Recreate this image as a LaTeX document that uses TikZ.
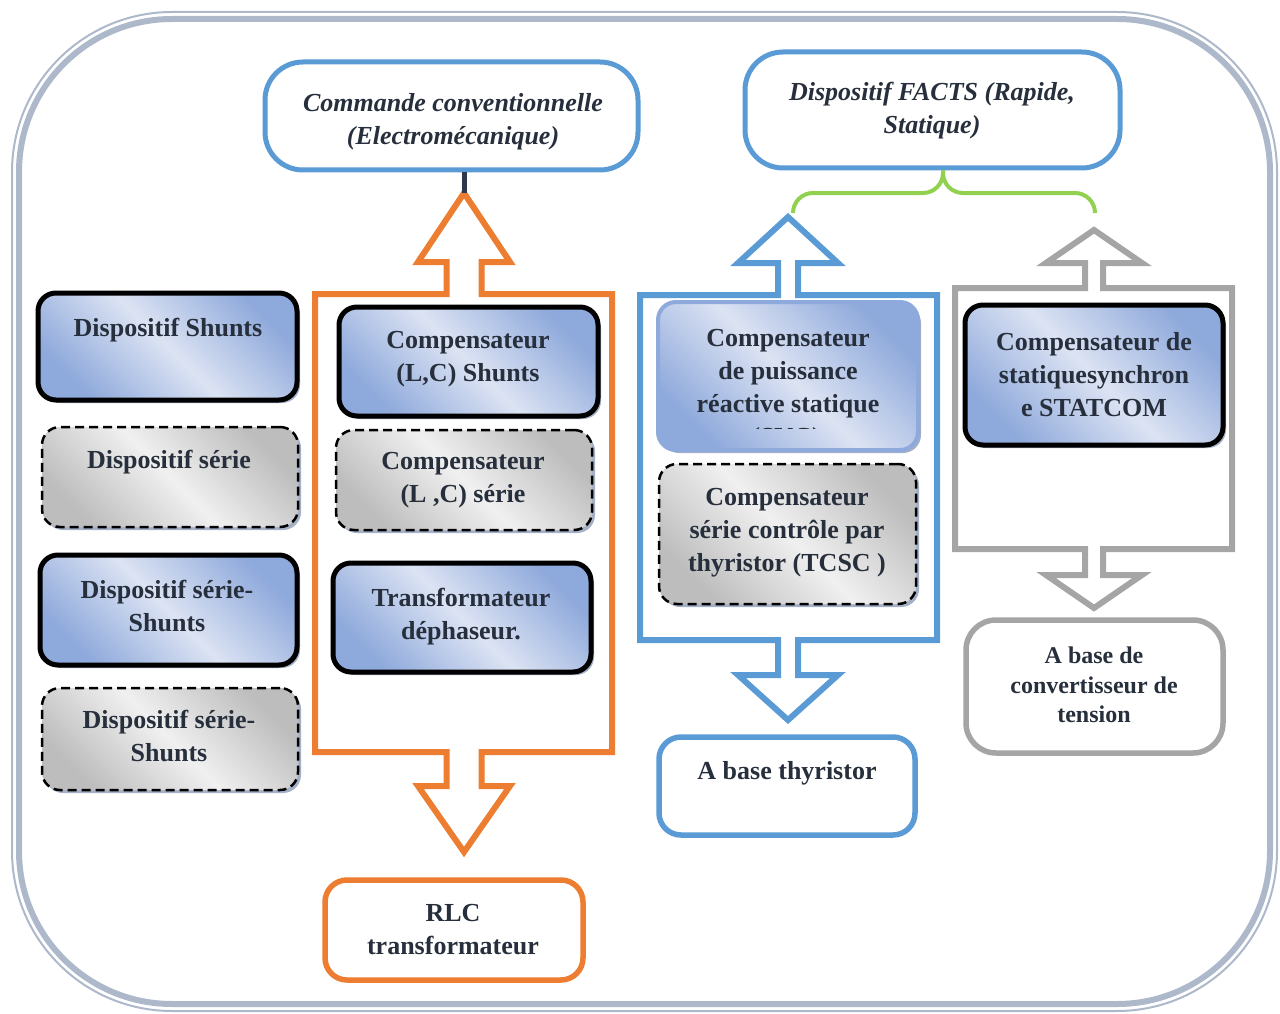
\documentclass[tikz,border=0pt]{standalone}
\usepackage{fontspec}
\setmainfont{Liberation Serif}
\usetikzlibrary{shadows}

\definecolor{frameC}{HTML}{ADB9CA}
\definecolor{accBlue}{HTML}{5B9BD5}
\definecolor{accOrange}{HTML}{ED7D31}
\definecolor{accGray}{HTML}{A5A5A5}
\definecolor{accGreen}{HTML}{92D050}
\definecolor{ink}{HTML}{262F3B}
\definecolor{stemC}{HTML}{2E3A4A}
\definecolor{shBlue}{HTML}{8EA9DB}
\definecolor{shBlueL}{HTML}{DCE3F3}
\definecolor{shGray}{HTML}{BDBDBD}
\definecolor{shGrayL}{HTML}{F0F0F0}
\definecolor{shadowC}{HTML}{8C9CB8}

\tikzset{
  txt/.style={font=\fontsize{26}{33}\selectfont\bfseries, text=ink, align=center, inner sep=0pt, anchor=north},
  headtxt/.style={txt, font=\fontsize{26}{33}\selectfont\bfseries\itshape},
  smalltxt/.style={txt, font=\fontsize{24}{29.5}\selectfont\bfseries},
  inbox/.style={rounded corners=18pt, inner sep=0pt,
    drop shadow={shadow xshift=3pt, shadow yshift=-3pt, fill=shadowC, opacity=0.8}},
  bluebox/.style={inbox, draw=black, line width=5pt,
    left color=shBlue, right color=shBlue, middle color=shBlueL, shading angle=-45},
  softbox/.style={inbox, draw=shBlue, line width=4pt,
    left color=shBlue, right color=shBlue, middle color=shBlueL, shading angle=-45},
  graybox/.style={inbox, draw=black, line width=2.5pt, dash pattern=on 9pt off 5pt,
    left color=shGray, right color=shGray, middle color=shGrayL, shading angle=-45},
  headbox/.style={draw, line width=5pt, rounded corners=38pt, fill=white, inner sep=0pt},
  endbox/.style={draw, line width=5.5pt, rounded corners=22pt, fill=white, inner sep=0pt},
  callout/.style={line width=6pt, line join=miter, miter limit=10},
}

\begin{document}
\begin{tikzpicture}[x=1pt,y=-1pt]
\useasboundingbox (0,0) rectangle (1280,1014);

% double rounded frame
\draw[frameC, line width=2pt, rounded corners=160pt] (12,12) rectangle (1277,1011);
\draw[frameC, line width=6pt, rounded corners=153pt] (19,19) rectangle (1270,1004);

% heading boxes
\node[headbox, draw=accBlue, minimum width=373, minimum height=108] (conv) at (451.5,116) {};
\node[headtxt] (convT) at (453,93) {Commande conventionnelle\\(Electromécanique)};
\node[headbox, draw=accBlue, minimum width=375, minimum height=116] (facts) at (932.5,110) {};
\node[headtxt] (factsT) at (932,82) {Dispositif FACTS (Rapide,\\Statique)};

% arrow tips of the callouts
\coordinate (oTop) at (464,193);
\coordinate (oBot) at (464,852);
\coordinate (bTop) at (788,217);
\coordinate (bBot) at (788,720);
\coordinate (gTop) at (1094,230);
\coordinate (gBot) at (1094,608);

% orange up-down callout
\draw[callout, accOrange] (315,294) -- (446.5,294) -- (446.5,262) -- (418,262) -- (oTop)
  -- (510,262) -- (481.5,262) -- (481.5,294) -- (612,294) -- (612,752) -- (481.5,752)
  -- (481.5,786) -- (510,786) -- (oBot) -- (418,786) -- (446.5,786) -- (446.5,752)
  -- (315,752) -- cycle;

% blue up-down callout
\draw[callout, accBlue] (640,295) -- (778,295) -- (778,263) -- (738,263) -- (bTop)
  -- (838,263) -- (798,263) -- (798,295) -- (937,295) -- (937,640) -- (798,640)
  -- (798,675) -- (838,675) -- (bBot) -- (738,675) -- (778,675) -- (778,640)
  -- (640,640) -- cycle;

% gray up-down callout
\draw[callout, accGray] (955,288) -- (1085,288) -- (1085,263) -- (1046,263) -- (gTop)
  -- (1142,263) -- (1103,263) -- (1103,288) -- (1232,288) -- (1232,549) -- (1103,549)
  -- (1103,575) -- (1142,575) -- (gBot) -- (1046,575) -- (1085,575) -- (1085,549)
  -- (955,549) -- cycle;

% links from the heading boxes
\draw[stemC, line width=5pt] (conv.south -| oTop) -- (oTop);
\coordinate (bl) at (793,213);
\coordinate (br) at (1095,213);
\coordinate (bc) at (943,193);
\draw[accGreen, line width=4pt, rounded corners=20pt] (bl) |- (bc) -- (bc |- facts.south);
\draw[accGreen, line width=4pt, rounded corners=20pt] (br) |- (bc) -- (bc |- facts.south);

% left column
\node[bluebox, minimum width=259, minimum height=107] (dShunt) at (167.5,346.5) {};
\node[txt] (dShuntT) at (168,318) {Dispositif Shunts};
\node[graybox, minimum width=256, minimum height=100] (dSerie) at (170,477) {};
\node[txt] (dSerieT) at (169,450) {Dispositif série};
\node[bluebox, minimum width=257, minimum height=110] (dSS) at (168.5,610) {};
\node[txt] (dSST) at (167,580) {Dispositif série-\\Shunts};
\node[graybox, minimum width=256, minimum height=102] (dSSb) at (170,739) {};
\node[txt] (dSSbT) at (169,710) {Dispositif série-\\Shunts};

% conventional devices
\node[bluebox, minimum width=259, minimum height=109] (cLC) at (468.5,361.5) {};
\node[txt] (cLCT) at (468,331) {Compensateur\\(L,C) Shunts};
\node[graybox, minimum width=256, minimum height=100] (cLCs) at (464,480) {};
\node[txt] (cLCsT) at (463,452) {Compensateur\\(L ,C) série};
\node[bluebox, minimum width=258, minimum height=109] (tDeph) at (462,617.5) {};
\node[txt] (tDephT) at (461,588) {Transformateur\\déphaseur.};

% thyristor based devices
\node[softbox, minimum width=260, minimum height=148] (svc) at (788,376) {};
\node[txt] (svcT) at (788,329) {Compensateur\\de puissance\\réactive statique};
\begin{scope}
  \clip (660,300) rectangle (916,428);
  \node[txt] (svcX) at (786,427) {(SVC)};
\end{scope}
\node[graybox, minimum width=257, minimum height=140] (tcsc) at (787.5,534) {};
\node[txt] (tcscT) at (787,488) {Compensateur\\série contrôle par\\thyristor (TCSC )};

% converter based device
\node[bluebox, minimum width=258, minimum height=140] (statcom) at (1094,375) {};
\node[txt] (statcomT) at (1094,332) {Compensateur de\\statiquesynchron\\e STATCOM};

% technology boxes
\node[endbox, draw=accOrange, minimum width=258, minimum height=100] (rlc) at (454,930) {};
\node[txt] (rlcT) at (453,904) {RLC\\transformateur};
\node[endbox, draw=accBlue, minimum width=256, minimum height=98] (thy) at (787,786) {};
\node[txt] (thyT) at (787,761) {A base thyristor};
\node[endbox, draw=accGray, rounded corners=30pt, minimum width=257, minimum height=133] (vsc) at (1094.5,686.5) {};
\node[smalltxt] (vscT) at (1094,647) {A base de\\convertisseur de\\tension};

\end{tikzpicture}
\end{document}
